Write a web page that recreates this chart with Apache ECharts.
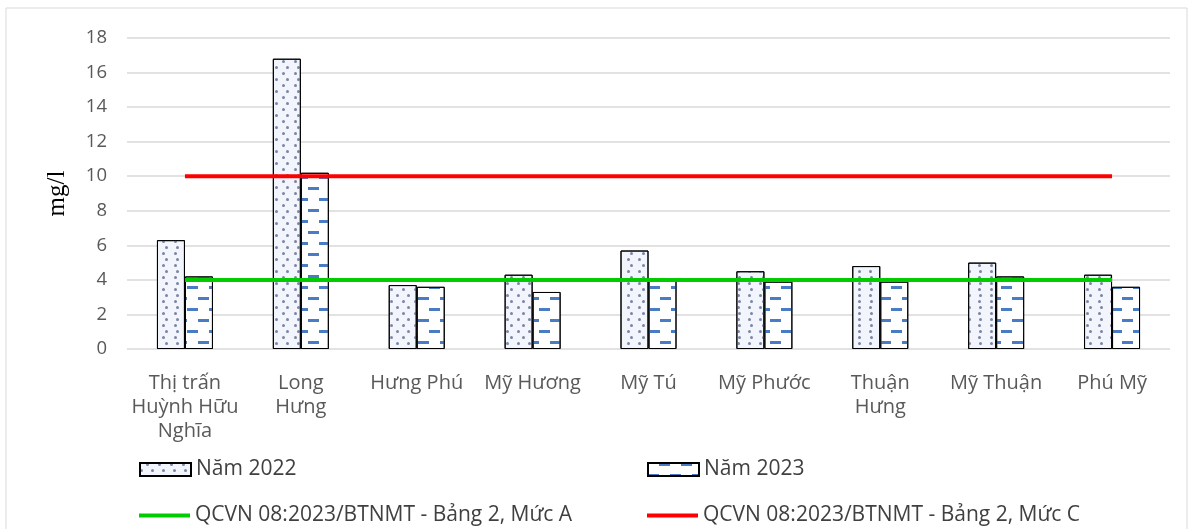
<!DOCTYPE html>
<html>
<head>
<meta charset="utf-8">
<script src="https://cdn.jsdelivr.net/npm/echarts@6/dist/echarts.min.js"></script>
<style>
    html, body { margin: 0; padding: 0; background: #fff; }
    #main { width: 1193px; height: 529px; }
</style>
</head>
<body>
<div id="main"></div>
<script type="text/javascript">
    var categories = ['Thị trấn\nHuỳnh Hữu\nNghĩa', 'Long\nHưng', 'Hưng Phú', 'Mỹ Hương', 'Mỹ Tú', 'Mỹ Phước', 'Thuận\nHưng', 'Mỹ Thuận', 'Phú Mỹ'];
    var nam2022 = [6.3, 16.8, 3.7, 4.3, 5.7, 4.5, 4.8, 5.0, 4.3];
    var nam2023 = [4.2, 10.2, 3.6, 3.3, 4.0, 3.9, 3.9, 4.2, 3.6];
    var mucA = [4, 4, 4, 4, 4, 4, 4, 4, 4];
    var mucC = [10, 10, 10, 10, 10, 10, 10, 10, 10];
    var seriesNames = ['Năm 2022', 'Năm 2023', 'QCVN 08:2023/BTNMT - Bảng 2, Mức A', 'QCVN 08:2023/BTNMT - Bảng 2, Mức C'];

    var axisFont = 'Open Sans, Noto Sans, sans-serif';

    var chart = echarts.init(document.getElementById('main'));

    function legendAt(name, left, top, iconH) {
        return {
            data: [{ name: name, icon: 'rect' }],
            left: left,
            top: top,
            itemWidth: 51,
            itemHeight: iconH,
            itemGap: 0,
            textStyle: { fontFamily: axisFont, fontSize: 21, color: '#404040' },
            selectedMode: false
        };
    }

    var option = {
        animation: false,
        backgroundColor: '#fff',
        graphic: [{
            type: 'rect',
            shape: { x: 6, y: 8, width: 1181, height: 530 },
            style: { fill: 'none', stroke: '#d9d9d9', lineWidth: 1 },
            silent: true
        }],
        grid: { left: 127, right: 23, top: 38, bottom: 180 },
        legend: [
            legendAt(seriesNames[0], 134, 454, 13),
            legendAt(seriesNames[1], 642, 454, 13),
            legendAt(seriesNames[2], 134, 500, 4),
            legendAt(seriesNames[3], 642, 500, 4)
        ],
        xAxis: {
            type: 'category',
            data: categories,
            axisLine: { show: false },
            axisTick: { show: false },
            axisLabel: {
                interval: 0,
                margin: 22,
                fontFamily: axisFont,
                fontSize: 20,
                lineHeight: 24,
                color: '#595959'
            }
        },
        yAxis: {
            type: 'value',
            min: 0,
            max: 18,
            interval: 2,
            name: 'mg/l',
            nameLocation: 'middle',
            nameRotate: 90,
            nameGap: 57,
            nameTextStyle: { fontFamily: 'Liberation Serif, serif', fontSize: 25, color: '#000' },
            axisLine: { show: false },
            axisTick: { show: false },
            axisLabel: { margin: 20, fontFamily: axisFont, fontSize: 18.5, color: '#595959' },
            splitLine: { lineStyle: { color: '#d9d9d9', width: 1.5 } }
        },
        series: [
            {
                name: seriesNames[0],
                type: 'bar',
                data: nam2022,
                barWidth: 28,
                barGap: '0%',
                itemStyle: {
                    color: '#f2f6fc',
                    borderColor: '#000',
                    borderWidth: 1,
                    decal: {
                        symbol: 'circle',
                        symbolSize: 1,
                        color: '#7b84a6',
                        dashArrayX: [[3, 8], [0, 5.5, 3, 2.5]],
                        dashArrayY: [2.5, 3]
                    }
                }
            },
            {
                name: seriesNames[1],
                type: 'bar',
                data: nam2023,
                barWidth: 28,
                itemStyle: {
                    color: '#ffffff',
                    borderColor: '#000',
                    borderWidth: 1,
                    decal: {
                        symbol: 'rect',
                        symbolSize: 1,
                        color: '#4a7cc4',
                        dashArrayX: [[11, 11], [0, 11, 11, 0]],
                        dashArrayY: [2.5, 8]
                    }
                }
            },
            {
                name: seriesNames[2],
                type: 'line',
                data: mucA,
                symbol: 'none',
                z: 5,
                itemStyle: { color: '#00cc00' },
                lineStyle: { color: '#00cc00', width: 4 }
            },
            {
                name: seriesNames[3],
                type: 'line',
                data: mucC,
                symbol: 'none',
                z: 5,
                itemStyle: { color: '#ff0000' },
                lineStyle: { color: '#ff0000', width: 4 }
            }
        ]
    };
    chart.setOption(option);
</script>
</body>
</html>
